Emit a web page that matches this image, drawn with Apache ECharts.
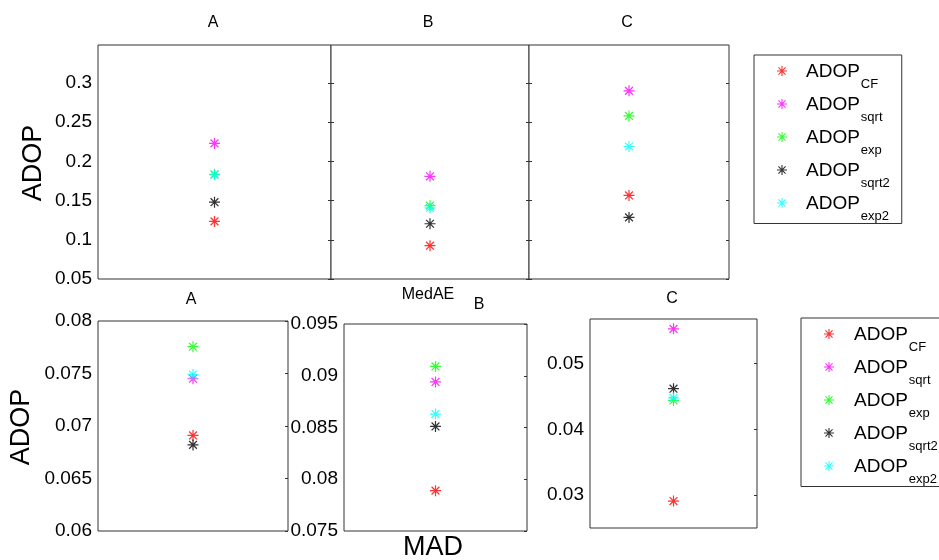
<!DOCTYPE html>
<html>
<head>
<meta charset="utf-8">
<script src="https://cdn.jsdelivr.net/npm/echarts@6/dist/echarts.min.js"></script>
<style>html,body{margin:0;padding:0;background:#fff}#c{width:939px;height:560px}</style>
</head>
<body>
<div id="c"></div>
<script>
// ---- data ----
const panelNames = ['A', 'B', 'C', 'A', 'B', 'C'];
const seriesKeys = ['CF', 'sqrt', 'exp', 'sqrt2', 'exp2'];
const adopCF    = [0.1235, 0.0925, 0.1566, 0.0691, 0.0789, 0.0291];
const adopSqrt  = [0.223,  0.181,  0.290,  0.0745, 0.0894, 0.0553];
const adopExp   = [0.1835, 0.1435, 0.258,  0.07755,0.0909, 0.0444];
const adopSqrt2 = [0.148,  0.1205, 0.1286, 0.0682, 0.0851, 0.0462];
const adopExp2  = [0.183,  0.1406, 0.219,  0.0749, 0.0863, 0.0448];
const topTicks  = [0.05, 0.1, 0.15, 0.2, 0.25, 0.3];
const botATicks = [0.06, 0.065, 0.07, 0.075, 0.08];
const botBTicks = [0.075, 0.08, 0.085, 0.09, 0.095];
const botCTicks = [0.03, 0.04, 0.05];
const yRanges = [[0.05, 0.3485], [0.05, 0.3485], [0.05, 0.3485], [0.06, 0.08], [0.075, 0.095], [0.025, 0.0568]];
const tickSets = [topTicks, topTicks, topTicks, botATicks, botBTicks, botCTicks];

// ---- styles ----
const seriesValues = [adopCF, adopSqrt, adopExp, adopSqrt2, adopExp2];
const colors = ['#ff0000', '#ff00ff', '#00ff00', '#000000', '#00ffff'];
const FONT = 'Liberation Sans, Arial, sans-serif';
const AX = '#333333';
const star = 'path://M8.9 0L11.1 0L11.1 20L8.9 20Z M0 8.9L20 8.9L20 11.1L0 11.1Z M2.1 3.7L3.7 2.1L17.9 16.3L16.3 17.9Z M16.3 2.1L17.9 3.7L3.7 17.9L2.1 16.3Z';
const grids = [
  {left: 98, top: 45, width: 233, height: 234},
  {left: 331, top: 45, width: 198, height: 234},
  {left: 529, top: 45, width: 200, height: 234},
  {left: 98, top: 321, width: 190, height: 210},
  {left: 344, top: 324, width: 183, height: 207},
  {left: 590, top: 319, width: 167, height: 209}
];
const showLabels = [true, false, false, true, true, true];
const showLeftTicks = [false, true, true, false, false, false];

const option = {
  animation: false,
  backgroundColor: '#fff',
  grid: grids.map(g => Object.assign({show: true, borderColor: AX, borderWidth: 1, backgroundColor: '#fff', containLabel: false}, g)),
  xAxis: grids.map((g, i) => ({
    type: 'category', gridIndex: i, data: [panelNames[i]],
    axisLine: {show: false}, axisTick: {show: false}, axisLabel: {show: false}, splitLine: {show: false}
  })),
  yAxis: [],
  series: [],
  legend: [],
  graphic: []
};

grids.forEach((g, i) => {
  const [mn, mx] = yRanges[i];
  option.yAxis.push({
    type: 'value', gridIndex: i, position: 'left', min: mn, max: mx,
    axisLine: {show: false}, splitLine: {show: false},
    axisTick: {show: showLeftTicks[i], inside: true, length: 3, lineStyle: {color: AX}, customValues: tickSets[i]},
    axisLabel: {show: showLabels[i], customValues: tickSets[i], margin: 6, color: '#000', fontSize: 19, fontFamily: FONT}
  });
  option.yAxis.push({
    type: 'value', gridIndex: i, position: 'right', min: mn, max: mx,
    axisLine: {show: false}, splitLine: {show: false},
    axisTick: {show: true, inside: true, length: 3, lineStyle: {color: AX}, customValues: tickSets[i]},
    axisLabel: {show: false}
  });
  seriesKeys.forEach((k, s) => {
    option.series.push({
      type: 'scatter', name: k, xAxisIndex: i, yAxisIndex: 2 * i,
      symbol: star, symbolSize: 11, itemStyle: {color: colors[s]},
      data: [[0, seriesValues[s][i]]]
    });
  });
});

function legendCfg(left, top, padLeftText) {
  return {
    orient: 'vertical', left: left, top: top, padding: [4, 12, 1, 23],
    itemGap: 1.5, itemWidth: 10, itemHeight: 10,
    borderColor: AX, borderWidth: 1, backgroundColor: '#fff',
    selectedMode: false, data: seriesKeys,
    formatter: n => '{a|ADOP}{b|' + n + '}',
    textStyle: {
      color: '#000', fontFamily: FONT,
      rich: {
        a: {fontSize: 19, lineHeight: 24, verticalAlign: 'top', fontFamily: FONT, padding: [3, 0, 0, padLeftText]},
        b: {fontSize: 13, lineHeight: 13, verticalAlign: 'top', fontFamily: FONT, padding: [18.5, 0, 0, 1]}
      }
    }
  };
}
option.legend.push(legendCfg(754, 55, 14));
option.legend.push(legendCfg(801, 318, 15));

function txt(s, x, y, size, rot) {
  return {type: 'text', x: x, y: y, rotation: rot || 0, z: 100,
    style: {text: s, fontSize: size, fontFamily: FONT, fill: '#000', textAlign: 'center', textVerticalAlign: 'middle'}};
}
option.graphic = [
  txt('A', 213, 23, 16), txt('B', 428, 23, 16), txt('C', 627, 23, 16),
  txt('A', 191, 300, 16), txt('B', 479, 305, 16), txt('C', 672, 299, 16),
  txt('MedAE', 428, 295, 16),
  txt('ADOP', 34, 163, 27, Math.PI / 2),
  txt('ADOP', 22, 427, 27, Math.PI / 2),
  txt('MAD', 433, 548, 27)
];

const chart = echarts.init(document.getElementById('c'), null, {renderer: 'canvas'});
chart.setOption(option);
</script>
</body>
</html>
